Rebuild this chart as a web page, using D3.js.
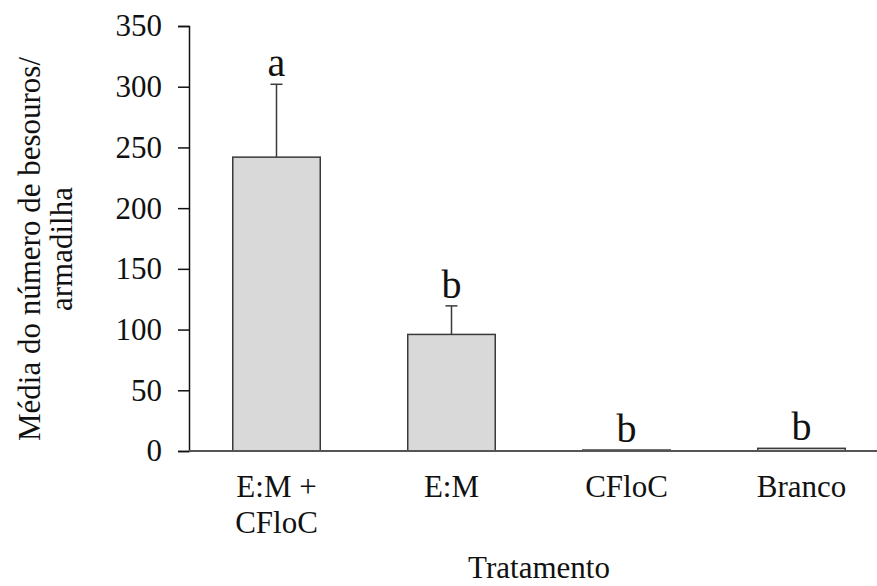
<!DOCTYPE html>
<html>
<head>
<meta charset="utf-8">
<script src="https://cdn.jsdelivr.net/npm/d3@7/dist/d3.min.js"></script>
<style>
  body { margin: 0; background: #fff; }
  text { font-family: "Liberation Serif", "Times New Roman", serif; fill: #111; }
</style>
</head>
<body>
<svg id="chart" width="877" height="586"></svg>
<script>
// data
var categories = [["E:M +", "CFloC"], ["E:M"], ["CFloC"], ["Branco"]];
var means      = [242, 96, 0.8, 2.2];
var errors     = [60, 23.5, 0, 0];
var letters    = ["a", "b", "b", "b"];
var yTicks     = [0, 50, 100, 150, 200, 250, 300, 350];

var margin = {top: 26, left: 189, bottom: 135};
var svg = d3.select("#chart");

var y = d3.scaleLinear().domain([0, 350]).range([451, 26]);
var x = d3.scaleBand()
    .domain(d3.range(categories.length))
    .range([189, 889])
    .paddingInner(0.5)
    .paddingOuter(0.25);

// y axis
var yAxis = d3.axisLeft(y).tickValues(yTicks).tickSize(11).tickPadding(16);
var gy = svg.append("g").attr("transform", "translate(" + margin.left + ",0)").call(yAxis);
gy.select(".domain").attr("stroke", "#111").attr("stroke-width", 1.5);
gy.selectAll(".tick line").attr("stroke", "#111").attr("stroke-width", 1.5);
gy.selectAll(".tick text")
    .style("font-family", "Liberation Serif, serif")
    .style("font-size", "31px")
    .attr("fill", "#111");

// bars
svg.selectAll("rect.bar")
    .data(means)
  .enter().append("rect")
    .attr("class", "bar")
    .attr("x", function(d, i) { return x(i); })
    .attr("y", function(d) { return y(d); })
    .attr("width", x.bandwidth())
    .attr("height", function(d) { return y(0) - y(d); })
    .attr("fill", "#d9d9d9")
    .attr("stroke", "#3a3a3a")
    .attr("stroke-width", 1.5);

// error bars (upper only)
var eb = svg.selectAll("g.err")
    .data(means.map(function(m, i) { return {m: m, e: errors[i], i: i}; }).filter(function(d) { return d.e > 0; }))
  .enter().append("g").attr("class", "err");
eb.append("line")
    .attr("x1", function(d) { return x(d.i) + x.bandwidth() / 2; })
    .attr("x2", function(d) { return x(d.i) + x.bandwidth() / 2; })
    .attr("y1", function(d) { return y(d.m); })
    .attr("y2", function(d) { return y(d.m + d.e); })
    .attr("stroke", "#3a3a3a").attr("stroke-width", 1.5);
eb.append("line")
    .attr("x1", function(d) { return x(d.i) + x.bandwidth() / 2 - 6; })
    .attr("x2", function(d) { return x(d.i) + x.bandwidth() / 2 + 6; })
    .attr("y1", function(d) { return y(d.m + d.e); })
    .attr("y2", function(d) { return y(d.m + d.e); })
    .attr("stroke", "#3a3a3a").attr("stroke-width", 1.5);

// x baseline
svg.append("line")
    .attr("x1", margin.left).attr("x2", 877)
    .attr("y1", y(0)).attr("y2", y(0))
    .attr("stroke", "#555").attr("stroke-width", 2);

// significance letters
svg.selectAll("text.letter")
    .data(letters)
  .enter().append("text")
    .attr("class", "letter")
    .attr("x", function(d, i) { return x(i) + x.bandwidth() / 2; })
    .attr("y", function(d, i) { return y(means[i] + errors[i]) - 8; })
    .attr("text-anchor", "middle")
    .style("font-size", "40px")
    .text(function(d) { return d; });

// category labels
var cl = svg.selectAll("text.cat")
    .data(categories)
  .enter().append("text")
    .attr("class", "cat")
    .attr("text-anchor", "middle")
    .attr("transform", function(d, i) { return "translate(" + (x(i) + x.bandwidth() / 2) + ",497)"; })
    .style("font-size", "31px");
cl.selectAll("tspan")
    .data(function(d) { return d; })
  .enter().append("tspan")
    .attr("x", 0)
    .attr("dy", function(d, j) { return j === 0 ? 0 : 36; })
    .text(function(d) { return d; });

// axis titles
svg.append("text")
    .attr("x", 539).attr("y", 578)
    .attr("text-anchor", "middle")
    .style("font-size", "31px")
    .text("Tratamento");

var yt = svg.append("text")
    .attr("transform", "translate(40,249) rotate(-90)")
    .attr("text-anchor", "middle")
    .style("font-size", "31px");
yt.append("tspan").attr("x", 0).attr("dy", 0).text("Média do número de besouros/");
yt.append("tspan").attr("x", 0).attr("dy", 32).text("armadilha");
</script>
</body>
</html>
